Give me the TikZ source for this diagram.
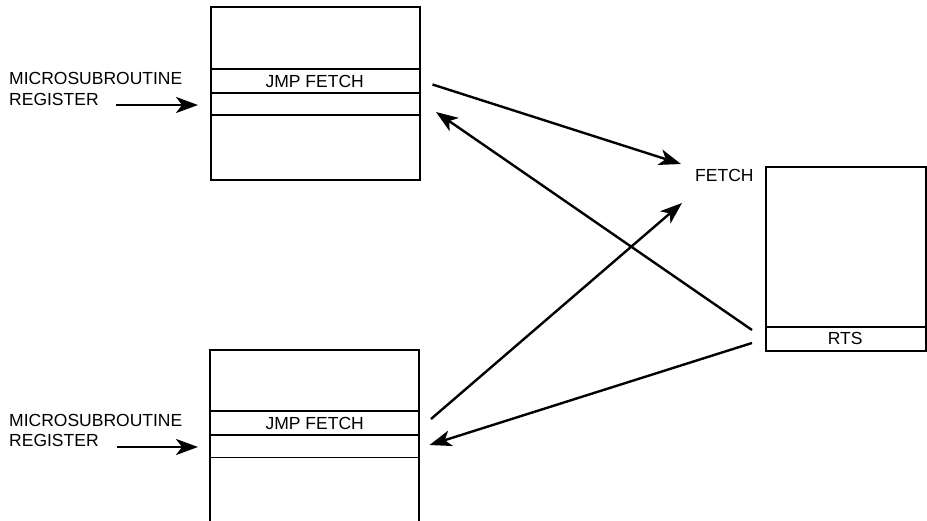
\documentclass[tikz,border=0pt]{standalone}
\usepackage{fontspec}
\setmainfont{Liberation Sans}
\usetikzlibrary{arrows.meta}
\begin{document}
\begin{tikzpicture}[x=1pt,y=-1pt,
  box/.style={draw,line width=2pt,rectangle,inner sep=0pt,anchor=north west},
  slot/.style={rectangle,inner sep=0pt,anchor=north west,font=\fontsize{17.5}{21}\selectfont},
  sep/.style={line width=1.8pt},
  lbl/.style={inner sep=0pt,font=\fontsize{17.5}{21}\selectfont},
  conn/.style={line width=2.4pt,-{Stealth[length=22pt,width=16pt,inset=6pt]}}]
\useasboundingbox (0,0) rectangle (927,521);
% top box
\node[box,minimum width=209pt,minimum height=173pt] (tb) at (210,6) {};
\node[slot,minimum width=209pt,minimum height=24pt] (tjmp) at (210,69) {JMP FETCH};
\node[slot,minimum width=209pt,minimum height=22pt] (tslot) at (210,93) {};
\draw[sep] (tjmp.north west) -- (tjmp.north east);
\draw[sep] (tslot.north west) -- (tslot.north east);
\draw[sep] (tslot.south west) -- (tslot.south east);
% bottom box (open at the bottom edge of the picture)
\node[inner sep=0pt,minimum width=209pt,minimum height=175pt,anchor=north west] (bb) at (210,350) {};
\draw[line width=2pt] (bb.south west) -- (bb.north west) -- (bb.north east) -- (bb.south east);
\node[slot,minimum width=209pt,minimum height=24pt] (bjmp) at (210,411) {JMP FETCH};
\node[slot,minimum width=209pt,minimum height=22pt] (bslot) at (210,435) {};
\draw[sep] (bjmp.north west) -- (bjmp.north east);
\draw[sep] (bslot.north west) -- (bslot.north east);
\draw[sep] (bslot.south west) -- (bslot.south east);
% right box
\node[box,minimum width=160pt,minimum height=184pt] (rb) at (765,166) {};
\node[slot,minimum width=160pt,minimum height=23pt] (rts) at (765,327) {RTS};
\draw[sep] (rts.north west) -- (rts.north east);
% labels
\node[lbl,anchor=base west] (fetch) at (695,182) {FETCH};
\node[lbl,anchor=base west] (tl1) at (9,85) {MICROSUBROUTINE};
\node[lbl,anchor=base west] (tl2) at (9,106) {REGISTER};
\node[lbl,anchor=base west] (bl1) at (9,426) {MICROSUBROUTINE};
\node[lbl,anchor=base west] (bl2) at (9,446.5) {REGISTER};
% connector end points
\coordinate (ta0) at (116,105);
\coordinate (ta1) at (198,105);
\coordinate (ba0) at (117,447);
\coordinate (ba1) at (198,447);
\coordinate (jt) at (432.5,84.5);
\coordinate (ft1) at (681,164);
\coordinate (rtop) at (752,330);
\coordinate (rt) at (436,112);
\coordinate (jb) at (431,419);
\coordinate (ft2) at (682,203);
\coordinate (rbot) at (752,343);
\coordinate (rb2) at (429.5,445);
% connectors
\draw[conn] (ta0) -- (ta1);
\draw[conn] (ba0) -- (ba1);
\draw[conn] (jt) -- (ft1);
\draw[conn] (rtop) -- (rt);
\draw[conn] (jb) -- (ft2);
\draw[conn] (rbot) -- (rb2);
\end{tikzpicture}
\end{document}
